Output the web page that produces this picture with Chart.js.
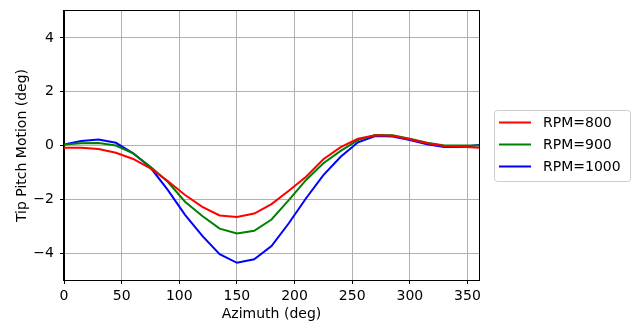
<!DOCTYPE html>
<html>
<head>
<meta charset="utf-8">
<script src="https://cdn.jsdelivr.net/npm/chart.js@4/dist/chart.umd.min.js"></script>
<style>
  html, body { margin: 0; padding: 0; background: #fff; }
  #wrap { width: 636px; height: 323px; }
</style>
</head>
<body>
<div id="wrap"><canvas id="chart" width="636" height="323"></canvas></div>
<script>
const azimuth = [0, 15, 30, 45, 60, 75, 90, 105, 120, 135, 150, 165, 180, 195, 210, 225, 240, 255, 270, 285, 300, 315, 330, 345, 360];
const rpm800  = [-0.08, -0.08, -0.13, -0.27, -0.50, -0.85, -1.32, -1.84, -2.28, -2.60, -2.66, -2.53, -2.18, -1.68, -1.16, -0.51, -0.06, 0.25, 0.38, 0.36, 0.23, 0.08, -0.02, -0.05, -0.08];
const rpm900  = [0.04, 0.08, 0.09, 0.00, -0.29, -0.79, -1.35, -2.09, -2.62, -3.09, -3.27, -3.17, -2.75, -2.03, -1.28, -0.66, -0.20, 0.20, 0.39, 0.38, 0.25, 0.10, 0.00, 0.00, 0.00];
const rpm1000 = [0.04, 0.17, 0.22, 0.10, -0.29, -0.82, -1.65, -2.58, -3.36, -4.04, -4.36, -4.23, -3.74, -2.89, -1.96, -1.10, -0.42, 0.12, 0.35, 0.33, 0.20, 0.05, -0.06, -0.06, 0.02];
const seriesNames = ['RPM=800', 'RPM=900', 'RPM=1000'];
const xTicks = [0, 50, 100, 150, 200, 250, 300, 350];
const yTicks = [-4, -2, 0, 2, 4];

const colors = ['#ff0000', '#008000', '#0000ff'];
const FONT = 'DejaVu Sans';

const toPoints = ys => azimuth.map((a, i) => ({ x: a, y: ys[i] }));

// frame + matplotlib-style legend box
const framePlugin = {
    id: 'frame',
    afterDraw(chart) {
        const { ctx, chartArea: a } = chart;
        ctx.save();
        ctx.strokeStyle = '#000';
        ctx.lineWidth = 1;
        ctx.strokeRect(Math.round(a.left) - 0.5, Math.round(a.top) - 0.5,
                       Math.round(a.right - a.left) + 1, Math.round(a.bottom - a.top) + 1);

        // legend
        const bx = 494.5, by = 110.5, bw = 136, bh = 71, r = 3;
        ctx.fillStyle = 'rgba(255,255,255,0.8)';
        ctx.strokeStyle = '#cccccc';
        ctx.beginPath();
        ctx.moveTo(bx + r, by);
        ctx.arcTo(bx + bw, by, bx + bw, by + bh, r);
        ctx.arcTo(bx + bw, by + bh, bx, by + bh, r);
        ctx.arcTo(bx, by + bh, bx, by, r);
        ctx.arcTo(bx, by, bx + bw, by, r);
        ctx.closePath();
        ctx.fill();
        ctx.stroke();

        ctx.font = `14px "${FONT}"`;
        ctx.textBaseline = 'middle';
        ctx.textAlign = 'left';
        chart.data.datasets.forEach((ds, i) => {
            const y = 122.5 + i * 22;
            ctx.strokeStyle = ds.borderColor;
            ctx.lineWidth = 2;
            ctx.beginPath();
            ctx.moveTo(499, y);
            ctx.lineTo(531, y);
            ctx.stroke();
            ctx.fillStyle = '#000';
            ctx.fillText(ds.label, 543, y + 0.5);
        });
        ctx.restore();
    }
};

new Chart(document.getElementById('chart'), {
    type: 'line',
    data: {
        datasets: [rpm800, rpm900, rpm1000].map((ys, i) => ({
            label: seriesNames[i],
            data: toPoints(ys),
            borderColor: colors[i],
            backgroundColor: colors[i],
            borderWidth: 2,
            pointRadius: 0,
            tension: 0,
            fill: false
        }))
    },
    options: {
        responsive: false,
        animation: false,
        layout: { padding: { left: 0, top: 11, right: 157, bottom: 0 } },
        plugins: { legend: { display: false }, tooltip: { enabled: false } },
        scales: {
            x: {
                type: 'linear', min: 0, max: 360,
                afterBuildTicks: s => { s.ticks = xTicks.map(v => ({ value: v })); },
                afterFit: s => { s.height = 43; s.paddingLeft = 0; s.paddingRight = 0; },
                grid: { color: '#b0b0b0', lineWidth: 1, tickColor: '#000', tickLength: 4 },
                border: { color: '#000' },
                ticks: { color: '#000', padding: 4, maxRotation: 0, font: { family: FONT, size: 14 } },
                title: { display: true, text: 'Azimuth (deg)', color: '#000', padding: { top: 0, bottom: 0 },
                         font: { family: FONT, size: 14 } }
            },
            y: {
                type: 'linear', min: -5, max: 5,
                afterBuildTicks: s => { s.ticks = yTicks.map(v => ({ value: v })); },
                afterFit: s => { s.width = 64; s.paddingTop = 0; s.paddingBottom = 0; },
                grid: { color: '#b0b0b0', lineWidth: 1, tickColor: '#000', tickLength: 4 },
                border: { color: '#000' },
                ticks: { color: '#000', padding: 6, font: { family: FONT, size: 14 },
                         callback: v => String(v).replace('-', '\u2212') },
                title: { display: true, text: 'Tip Pitch Motion (deg)', color: '#000', padding: { top: 14, bottom: 0 },
                         font: { family: FONT, size: 14 } }
            }
        }
    },
    plugins: [framePlugin]
});
</script>
</body>
</html>
